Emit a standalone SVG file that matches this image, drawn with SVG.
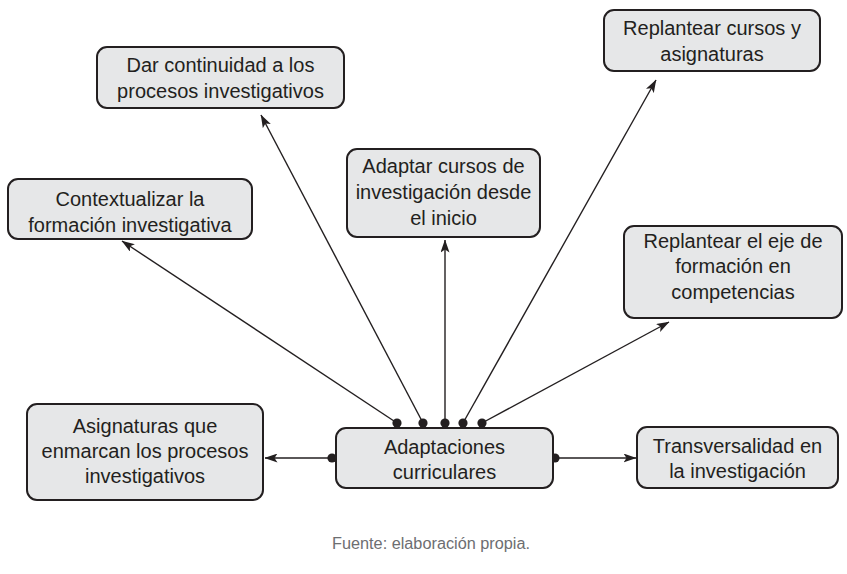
<svg xmlns="http://www.w3.org/2000/svg" width="847" height="574" viewBox="0 0 847 574">
  <defs>
    <style>
      .box { fill: #e6e7e8; stroke: #231f20; stroke-width: 2; }
      .lbl { font-family: "Liberation Sans", Arial, sans-serif; font-size: 20px; fill: #231f20; text-anchor: middle; }
      .edge { stroke: #231f20; stroke-width: 1.4; fill: none; marker-end: url(#arrow); }
      .dot { fill: #231f20; }
      .note { font-family: "Liberation Sans", Arial, sans-serif; font-size: 16px; fill: #6d6e71; text-anchor: middle; }
    </style>
    <marker id="arrow" viewBox="0 0 13 9" markerWidth="13" markerHeight="9" refX="12.5" refY="4.5" orient="auto" markerUnits="userSpaceOnUse">
      <path d="M0,0 L13,4.5 L0,9 L3,4.5 z" fill="#231f20"/>
    </marker>
  </defs>

  <rect width="847" height="574" fill="#ffffff"/>

  <!-- connectors from the central node -->
  <g id="connectors">
    <line class="edge" x1="332" y1="458" x2="265" y2="458"/>
    <line class="edge" x1="555" y1="458" x2="636" y2="458"/>
    <line class="edge" x1="397" y1="423" x2="122" y2="241"/>
    <line class="edge" x1="423" y1="423" x2="261" y2="115"/>
    <line class="edge" x1="445" y1="423" x2="445" y2="240"/>
    <line class="edge" x1="463" y1="423" x2="656" y2="80"/>
    <line class="edge" x1="482" y1="423" x2="669" y2="322"/>
    <circle class="dot" cx="332" cy="458" r="4.6"/>
    <circle class="dot" cx="555" cy="458" r="4.6"/>
    <circle class="dot" cx="397" cy="423" r="4.6"/>
    <circle class="dot" cx="423" cy="423" r="4.6"/>
    <circle class="dot" cx="445" cy="423" r="4.6"/>
    <circle class="dot" cx="463" cy="423" r="4.6"/>
    <circle class="dot" cx="482" cy="423" r="4.6"/>
  </g>

  <g id="node-center">
    <rect class="box" x="336" y="428" width="217" height="60" rx="10"/>
    <text class="lbl" x="444.5" y="454">Adaptaciones</text>
    <text class="lbl" x="444.5" y="479">curriculares</text>
  </g>

  <g id="node-contextualizar">
    <rect class="box" x="8" y="179" width="244" height="60" rx="10"/>
    <text class="lbl" x="130" y="206">Contextualizar la</text>
    <text class="lbl" x="130" y="232">formación investigativa</text>
  </g>

  <g id="node-continuidad">
    <rect class="box" x="97" y="47" width="247" height="61" rx="10"/>
    <text class="lbl" x="220.5" y="72">Dar continuidad a los</text>
    <text class="lbl" x="220.5" y="98">procesos investigativos</text>
  </g>

  <g id="node-adaptar">
    <rect class="box" x="347" y="149" width="193" height="88" rx="10"/>
    <text class="lbl" x="443.5" y="173">Adaptar cursos de</text>
    <text class="lbl" x="443.5" y="199">investigación desde</text>
    <text class="lbl" x="443.5" y="225">el inicio</text>
  </g>

  <g id="node-replantear-cursos">
    <rect class="box" x="604" y="10" width="216" height="61" rx="10"/>
    <text class="lbl" x="712" y="35">Replantear cursos y</text>
    <text class="lbl" x="712" y="61">asignaturas</text>
  </g>

  <g id="node-replantear-eje">
    <rect class="box" x="624" y="226" width="218" height="92" rx="10"/>
    <text class="lbl" x="733" y="248">Replantear el eje de</text>
    <text class="lbl" x="733" y="273">formación en</text>
    <text class="lbl" x="733" y="299">competencias</text>
  </g>

  <g id="node-asignaturas">
    <rect class="box" x="27" y="404" width="236" height="96" rx="10"/>
    <text class="lbl" x="145" y="433">Asignaturas que</text>
    <text class="lbl" x="145" y="458">enmarcan los procesos</text>
    <text class="lbl" x="145" y="483">investigativos</text>
  </g>

  <g id="node-transversalidad">
    <rect class="box" x="637" y="427" width="201" height="61" rx="10"/>
    <text class="lbl" x="737.5" y="453">Transversalidad en</text>
    <text class="lbl" x="737.5" y="478">la investigación</text>
  </g>

  <text class="note" x="431" y="549" textLength="198" lengthAdjust="spacingAndGlyphs">Fuente: elaboración propia.</text>
</svg>
